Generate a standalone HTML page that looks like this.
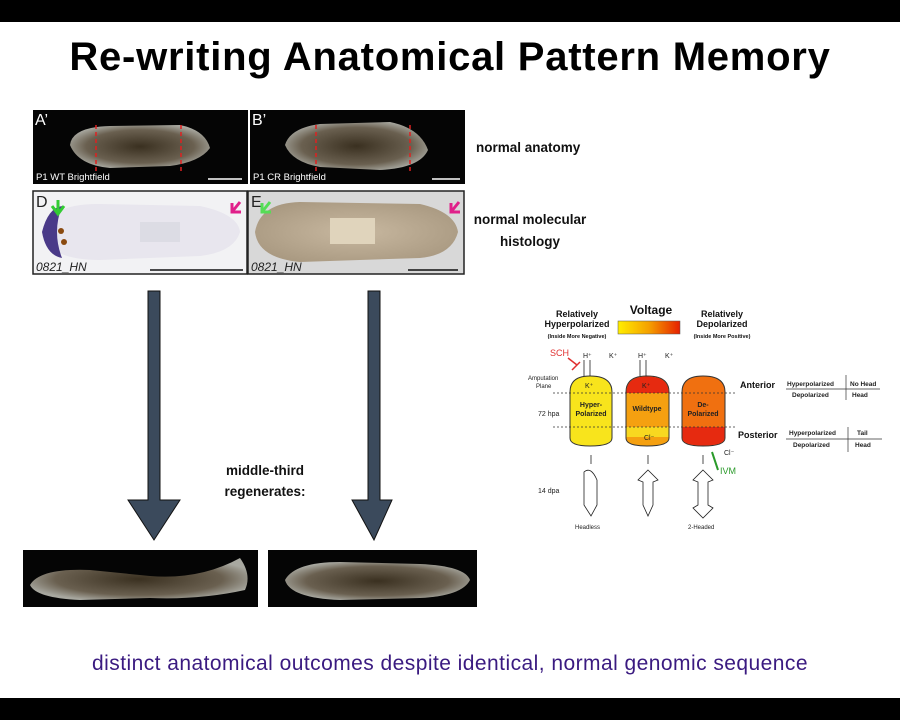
<!DOCTYPE html>
<html><head><meta charset="utf-8"><style>
body{margin:0;width:900px;height:720px;background:#fff;position:relative;overflow:hidden;font-family:"Liberation Sans",sans-serif}
.a{position:absolute}
.t{font-weight:bold;font-size:15px;color:#111}
</style></head><body>
<div class="a" style="left:0;top:0;width:900px;height:22px;background:#000"></div>
<div class="a" style="left:0;top:698px;width:900px;height:22px;background:#000"></div>
<div class="a" style="left:0;top:35px;width:900px;text-align:center;font-size:40px;font-weight:bold;letter-spacing:0.75px;color:#000">Re-writing Anatomical Pattern Memory</div>

<svg class="a" style="left:0;top:0" width="900" height="720">
<defs>
<radialGradient id="worm" cx="50%" cy="50%" r="55%"><stop offset="0" stop-color="#3a3020"/><stop offset="0.7" stop-color="#6a6050"/><stop offset="1" stop-color="#a8a8a0"/></radialGradient>
<radialGradient id="wormE" cx="50%" cy="50%" r="60%"><stop offset="0" stop-color="#c8b8a0"/><stop offset="1" stop-color="#a89880"/></radialGradient>
<linearGradient id="volt" x1="0" x2="1"><stop offset="0" stop-color="#ffee00"/><stop offset="0.5" stop-color="#f5a000"/><stop offset="1" stop-color="#e62000"/></linearGradient>
</defs>
<rect x="33" y="110" width="215" height="74" fill="#050505"/>
<rect x="250" y="110" width="215" height="74" fill="#050505"/>
<path d="M70 145 Q72 127 110 126 L180 125 Q205 130 210 148 Q200 162 170 166 L110 168 Q78 165 70 145Z" fill="url(#worm)"/>
<path d="M285 145 Q290 128 320 124 L390 122 Q420 128 428 150 Q420 168 380 170 L320 167 Q292 162 285 145Z" fill="url(#worm)"/>
<g stroke="#e02020" stroke-width="1.5" stroke-dasharray="4,3"><line x1="96" y1="125" x2="96" y2="172"/><line x1="181" y1="125" x2="181" y2="172"/><line x1="316" y1="125" x2="316" y2="172"/><line x1="410" y1="125" x2="410" y2="172"/></g>
<g fill="#fff" font-size="9.5"><text x="36" y="180">P1 WT Brightfield</text><text x="253" y="180">P1 CR Brightfield</text></g>
<g fill="#fff" font-size="16"><text x="35" y="125">A’</text><text x="252" y="125">B’</text></g>
<line x1="208" y1="179" x2="242" y2="179" stroke="#fff" stroke-width="1.5"/><line x1="432" y1="179" x2="460" y2="179" stroke="#fff" stroke-width="1.5"/>
<rect x="33" y="191" width="214" height="83" fill="#f2f2f4" stroke="#222" stroke-width="1.5"/>
<rect x="248" y="191" width="216" height="83" fill="#d8d8d8" stroke="#222" stroke-width="1.5"/>
<path d="M42 232 Q50 203 100 204 L200 206 Q238 214 240 232 Q234 252 200 256 L100 260 Q48 260 42 232Z" fill="#e8e6ee"/>
<path d="M42 232 Q48 208 62 206 Q52 232 62 258 Q46 255 42 232Z" fill="#4a3a88"/>
<circle cx="61" cy="231" r="3" fill="#8a4a10"/><circle cx="64" cy="242" r="3" fill="#8a4a10"/>
<path d="M255 232 Q260 203 300 202 L420 204 Q455 212 458 232 Q452 255 420 258 L300 262 Q258 258 255 232Z" fill="url(#wormE)"/>
<rect x="140" y="222" width="40" height="20" fill="#dcdce4"/><rect x="330" y="218" width="45" height="26" fill="#e0d4bc"/>
<g fill="#222" font-size="12" font-style="italic"><text x="36" y="271">0821_HN</text><text x="251" y="271">0821_HN</text></g>
<g fill="#222" font-size="16"><text x="36" y="207">D</text><text x="251" y="207">E</text></g>
<line x1="150" y1="270" x2="243" y2="270" stroke="#111" stroke-width="1.5"/><line x1="408" y1="270" x2="458" y2="270" stroke="#111" stroke-width="1.5"/>
<path d="M58 200 L58 212 M52 206 L58 214 L64 206" stroke="#3c3" stroke-width="3" fill="none"/>
<path d="M270 202 L262 212 M262 203 L262 212 L271 212" stroke="#5d5" stroke-width="3" fill="none"/>
<path d="M240 202 L232 212 M232 203 L232 212 L241 212" stroke="#e0208a" stroke-width="3" fill="none"/>
<path d="M459 202 L451 212 M451 203 L451 212 L460 212" stroke="#e0208a" stroke-width="3" fill="none"/>
<g fill="#3b4a5c" stroke="#111" stroke-width="1">
<path d="M148 291 L160 291 L160 500 L180 500 L154 540 L128 500 L148 500Z"/>
<path d="M368 291 L380 291 L380 500 L392 500 L374 540 L352 500 L368 500Z"/>
</g>
<rect x="23" y="550" width="235" height="57" fill="#050505"/>
<rect x="268" y="550" width="209" height="57" fill="#050505"/>
<path d="M30 585 Q40 568 90 570 L150 576 Q200 580 240 558 Q252 575 245 590 Q200 600 150 598 L80 600 Q36 598 30 585Z" fill="url(#worm)"/>
<path d="M285 580 Q295 562 340 562 L420 564 Q465 566 470 580 Q462 596 420 598 L340 600 Q290 598 285 580Z" fill="url(#worm)"/>
<g font-weight="bold" fill="#111" text-anchor="middle">
<text x="577" y="317" font-size="9">Relatively</text><text x="577" y="327" font-size="9">Hyperpolarized</text><text x="577" y="338" font-size="5.5">(Inside More Negative)</text>
<text x="722" y="317" font-size="9">Relatively</text><text x="722" y="327" font-size="9">Depolarized</text><text x="722" y="338" font-size="5.5">(Inside More Positive)</text>
<text x="651" y="314" font-size="12">Voltage</text>
</g>
<rect x="618" y="321" width="62" height="13" fill="url(#volt)" stroke="#555" stroke-width="0.5"/>
<g stroke="#333" stroke-width="1">
<path d="M570 392 Q570 376 590 376 Q612 376 612 392 L612 438 Q612 446 590 446 Q570 446 570 438Z" fill="#f8e41c"/>
<path d="M626 392 Q626 376 647 376 Q669 376 669 392 L669 438 Q669 446 647 446 Q626 446 626 438Z" fill="#f5a010"/>
<path d="M682 392 Q682 376 703 376 Q725 376 725 392 L725 438 Q725 446 703 446 Q682 446 682 438Z" fill="#f07010"/>
</g>
<path d="M626.5 392 Q626.5 376.5 647 376.5 Q668.5 376.5 668.5 392 L668.5 393 L626.5 393Z" fill="#e62a10"/>
<rect x="626.5" y="427" width="42" height="10" fill="#f8d820"/>
<path d="M682.5 427 L724.5 427 L724.5 438 Q724.5 445.5 703 445.5 Q682.5 445.5 682.5 438Z" fill="#e62a10"/>
<g stroke="#333" stroke-dasharray="2,2" stroke-width="0.7"><line x1="553" y1="393" x2="735" y2="393"/><line x1="553" y1="427" x2="735" y2="427"/></g>
<g font-size="7" font-weight="bold" fill="#222" text-anchor="middle">
<text x="591" y="407">Hyper-</text><text x="591" y="416">Polarized</text>
<text x="647" y="411">Wildtype</text>
<text x="703" y="407">De-</text><text x="703" y="416">Polarized</text>
</g>
<g font-size="7" fill="#222"><text x="585" y="388">K⁺</text><text x="642" y="388">K⁺</text><text x="644" y="440">Cl⁻</text><text x="724" y="455">Cl⁻</text>
<text x="583" y="358">H⁺</text><text x="609" y="358">K⁺</text><text x="638" y="358">H⁺</text><text x="665" y="358">K⁺</text>
<text x="528" y="380" font-size="6">Amputation</text><text x="536" y="388" font-size="6">Plane</text>
<text x="538" y="416">72 hpa</text><text x="538" y="493">14 dpa</text>
<text x="575" y="529" font-size="6">Headless</text><text x="688" y="529" font-size="6">2-Headed</text></g>
<text x="550" y="356" font-size="9" fill="#e03030">SCH</text>
<text x="720" y="474" font-size="9" fill="#2a9a2a">IVM</text>
<path d="M712 452 L718 470" stroke="#2a9a2a" stroke-width="2"/>
<path d="M568 358 L577 365 M572 370 L580 362" stroke="#e03030" stroke-width="1.5" fill="none"/>
<g stroke="#222" stroke-width="0.8" fill="none">
<line x1="584" y1="376" x2="584" y2="360"/><line x1="590" y1="360" x2="590" y2="376"/>
<line x1="640" y1="376" x2="640" y2="360"/><line x1="646" y1="360" x2="646" y2="376"/>
<line x1="591" y1="464" x2="591" y2="455"/><line x1="648" y1="464" x2="648" y2="455"/><line x1="703" y1="464" x2="703" y2="455"/>
<path d="M584 472 Q584 480 584 505 L591 516 L597 505 L597 480 Q591 466 584 472Z"/>
<path d="M648 470 L658 480 L653 482 L653 505 L648 516 L643 505 L643 482 L638 480Z"/>
<path d="M703 470 L713 480 L708 482 L708 505 L713 508 L703 518 L693 508 L698 505 L698 482 L693 480Z"/>
</g>
<g font-size="9" font-weight="bold" fill="#111"><text x="740" y="388">Anterior</text><text x="738" y="438">Posterior</text></g>
<g font-size="6.5" font-weight="bold" fill="#222"><text x="787" y="386">Hyperpolarized</text><text x="850" y="386">No Head</text><text x="792" y="397">Depolarized</text><text x="852" y="397">Head</text>
<text x="789" y="435">Hyperpolarized</text><text x="857" y="435">Tail</text><text x="793" y="447">Depolarized</text><text x="855" y="447">Head</text></g>
<g stroke="#333" stroke-width="0.7"><line x1="786" y1="389" x2="880" y2="389"/><line x1="846" y1="375" x2="846" y2="400"/><line x1="786" y1="439" x2="882" y2="439"/><line x1="848" y1="427" x2="848" y2="452"/></g>
</svg>

<div class="a t" style="left:476px;top:140px;font-size:13.5px">normal anatomy</div>
<div class="a t" style="left:470px;top:209px;width:120px;text-align:center;font-size:13.5px;line-height:22px">normal molecular histology</div>
<div class="a t" style="left:210px;top:460px;width:110px;text-align:center;font-size:13.5px;line-height:21px">middle-third regenerates:</div>
<div class="a" style="left:0;top:652px;width:900px;text-align:center;font-size:21px;letter-spacing:0.45px;color:#3a1a80">distinct anatomical outcomes despite identical, normal genomic sequence</div>
</body></html>
